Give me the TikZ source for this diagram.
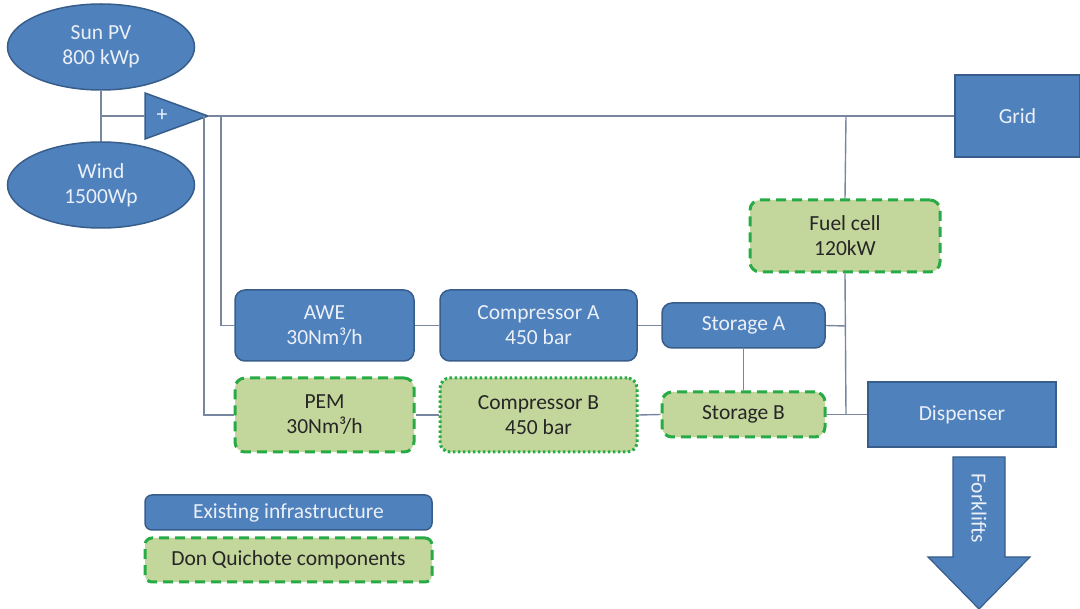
\documentclass[tikz,border=0pt]{standalone}
\usepackage{fontspec}
\setmainfont{Carlito}
\usetikzlibrary{shapes.geometric}
\definecolor{boxblue}{RGB}{79,129,189}
\definecolor{boxedge}{RGB}{56,93,138}
\definecolor{newfill}{RGB}{195,214,155}
\definecolor{newedge}{RGB}{40,170,70}
\definecolor{wire}{RGB}{120,135,160}
\definecolor{lighttext}{RGB}{235,240,248}
\tikzset{
  base/.style={font=\fontsize{21.5}{25}\selectfont, align=center, inner sep=0pt},
  existing/.style={base, draw=boxedge, fill=boxblue, line width=1.5pt, text=lighttext, rounded corners=10pt},
  plainbox/.style={base, draw=boxedge, fill=boxblue, line width=1.5pt, text=lighttext},
  source/.style={base, ellipse, draw=boxedge, fill=boxblue, line width=1.5pt, text=lighttext},
  newpart/.style={base, draw=newedge, fill=newfill, line width=3pt, text=black!85, rounded corners=10pt, dash pattern=on 10pt off 6pt},
  newdotted/.style={base, draw=newedge, fill=newfill, line width=3pt, text=black!85, rounded corners=10pt, dash pattern=on 2.5pt off 2.5pt},
  wireline/.style={draw=wire, line width=1.4pt},
}
\begin{document}
\begin{tikzpicture}[x=1pt,y=-1pt]
\useasboundingbox (0,0) rectangle (1080,609);

% sources
\node[source, minimum width=187pt, minimum height=86pt] (pv) at (101,47) {Sun PV\\800 kWp};
\node[source, minimum width=187pt, minimum height=86pt] (wind) at (101,185) {Wind\\1500Wp};

% summing triangle
\coordinate (tl) at (145,93);
\coordinate (bl) at (145,139);
\coordinate (tip) at (208,116);
\coordinate (sumin) at (145,116);
\filldraw[fill=boxblue, draw=boxedge, line width=1.5pt] (tl) -- (tip) -- (bl) -- cycle;
\node[inner sep=0pt, text=lighttext, font=\fontsize{22}{22}\selectfont] (plus) at (162,115) {+};

% blocks
\node[plainbox, minimum width=125pt, minimum height=82pt] (grid) at (1017.5,116) {Grid};
\node[newpart, minimum width=190pt, minimum height=72pt] (fc) at (845,236) {Fuel cell\\120kW};
\node[existing, minimum width=179pt, minimum height=71pt] (awe) at (324.5,325.5) {AWE\\30Nm³/h};
\node[existing, minimum width=197pt, minimum height=71pt] (compa) at (538.5,325.5) {Compressor A\\450 bar};
\node[existing, minimum width=163pt, minimum height=45pt] (stoa) at (743.5,325.5) {Storage A};
\node[newpart, minimum width=179pt, minimum height=74pt] (pem) at (324.5,415) {PEM\\30Nm³/h};
\node[newdotted, minimum width=197pt, minimum height=74pt] (compb) at (538.5,415) {Compressor B\\450 bar};
\node[newpart, minimum width=163pt, minimum height=45pt] (stob) at (743.5,414.5) {Storage B};
\node[plainbox, minimum width=188pt, minimum height=65pt] (disp) at (962,414.5) {Dispenser};

% legend
\node[existing, rounded corners=7pt, minimum width=287pt, minimum height=35pt] (leg1) at (288.5,512.5) {Existing infrastructure};
\node[newpart, rounded corners=7pt, minimum width=287pt, minimum height=44pt] (leg2) at (288.5,560) {Don Quichote components};

% junction points
\coordinate (jpv) at (101,116);
\coordinate (j1) at (204,116);
\coordinate (j2) at (221,116);
\coordinate (jfc) at (846,116);
\coordinate (jsa) at (846,326);
\coordinate (jsb) at (846,414.5);

% wiring
\draw[wireline] (pv.south) -- (wind.north);
\draw[wireline] (jpv) -- (sumin);
\draw[wireline] (tip) -- (grid.west);
\draw[wireline] (j1) |- (pem.west);
\draw[wireline] (j2) |- (awe.west);
\draw[wireline] (awe.east) -- (compa.west);
\draw[wireline] (compa.east) -- (stoa.west);
\draw[wireline] (pem.east) -- (compb.west);
\draw[wireline] (compb.east) -- (stob.west);
\draw[wireline] (stoa.south) -- (stob.north);
\draw[wireline] (jfc) -- (fc.north);
\draw[wireline] (fc.south) -- (jsb);
\draw[wireline] (stoa.east) -- (jsa);
\draw[wireline] (stob.east) -- (disp.west);

% forklift arrow
\coordinate (arrtip) at (979,609);
\filldraw[fill=boxblue, draw=boxedge, line width=1.2pt]
  (953,457) -- (1005,457) -- (1005,557) -- (1030,557) -- (arrtip) -- (928,557) -- (953,557) -- cycle;
\node[base, text=lighttext, rotate=-90] (fork) at (979,508) {Forklifts};
\end{tikzpicture}
\end{document}
